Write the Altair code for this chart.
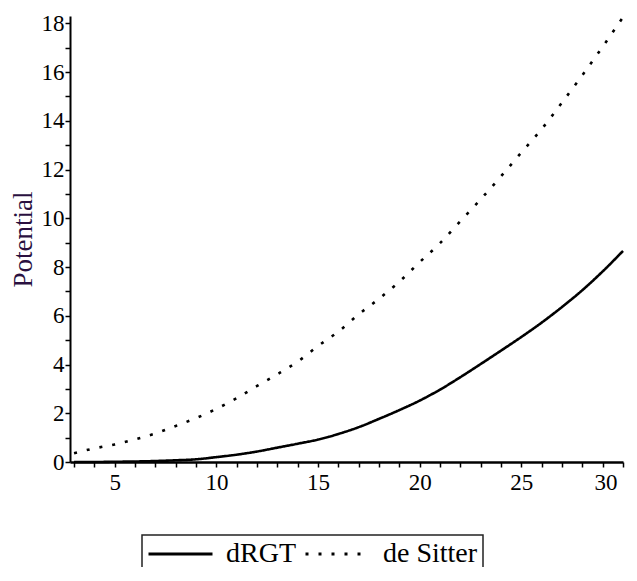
import altair as alt
import pandas as pd

# Values
x_vals = list(range(3, 31))
drgt = [0.0, 0.0, 0.01, 0.02, 0.04, 0.07, 0.11, 0.2, 0.3, 0.43, 0.59, 0.75, 0.92,
        1.15, 1.43, 1.77, 2.13, 2.52, 2.97, 3.48, 4.02, 4.57, 5.13, 5.72, 6.36,
        7.05, 7.82, 8.66]
desitter = [0.36, 0.56, 0.72, 0.93, 1.17, 1.48, 1.8, 2.18, 2.62, 3.12, 3.6, 4.12,
            4.76, 5.35, 6.06, 6.7, 7.4, 8.2, 8.98, 9.88, 10.78, 11.72, 12.7, 13.66,
            14.75, 15.87, 17.04, 18.25]
series_names = ["dRGT", "de Sitter"]

rows = []
for name, vals in zip(series_names, [drgt, desitter]):
    for xv, yv in zip(x_vals, vals):
        rows.append({"x": xv, "y": yv, "series": name})
df = pd.DataFrame(rows)

FONT = "Liberation Serif"

chart = alt.Chart(df).mark_line(strokeWidth=2.6, interpolate="monotone").encode(
    x=alt.X("x:Q",
            scale=alt.Scale(domain=[2.8, 30], nice=False, zero=False),
            axis=alt.Axis(values=list(range(3, 31)),
                          labelExpr="datum.value % 5 === 0 ? datum.label : ''",
                          title=None, grid=False,
                          domainColor="black", domainWidth=2.5,
                          tickColor="black", tickWidth=1.5, tickSize=5,
                          labelFont=FONT, labelFontSize=23, labelColor="black",
                          labelPadding=4,
                          labelOffset={"condition": {"test": "datum.value === 30", "value": -6},
                                       "value": 0})),
    y=alt.Y("y:Q",
            scale=alt.Scale(domain=[0, 18.3], nice=False),
            axis=alt.Axis(values=list(range(0, 19)),
                          labelExpr="datum.value % 2 === 0 ? datum.label : ''",
                          title="Potential", grid=False,
                          domainColor="black", domainWidth=2,
                          tickColor="black", tickWidth=1.5, tickSize=5,
                          labelFont=FONT, labelFontSize=23, labelColor="black",
                          labelPadding=1,
                          titleFont=FONT, titleFontSize=27, titleFontWeight="normal",
                          titleColor="#2a1040", titlePadding=4)),
    color=alt.Color("series:N",
                    scale=alt.Scale(domain=series_names, range=["black", "black"]),
                    legend=alt.Legend(title=None)),
    strokeDash=alt.StrokeDash("series:N",
                              scale=alt.Scale(domain=series_names, range=[[1, 0], [3, 10]]),
                              legend=alt.Legend(title=None)),
).properties(
    width=553,
    height=446,
    padding={"left": 62, "top": 8, "right": 6, "bottom": 105},
    autosize=alt.AutoSizeParams(type="none"),
).configure_view(
    stroke=None
).configure_legend(
    orient="none", legendX=72, legendY=519, direction="horizontal",
    symbolType="stroke", symbolSize=4096, symbolStrokeWidth=3,
    symbolStrokeColor="black", clipHeight=28,
    labelFont=FONT, labelFontSize=28, labelColor="black", labelOffset=12,
    columnPadding=8, padding=5, strokeColor="#222", strokeWidth=1.5, cornerRadius=0,
    labelLimit=300,
)

chart.save("out.html", embed_options={"renderer": "svg", "actions": False})
